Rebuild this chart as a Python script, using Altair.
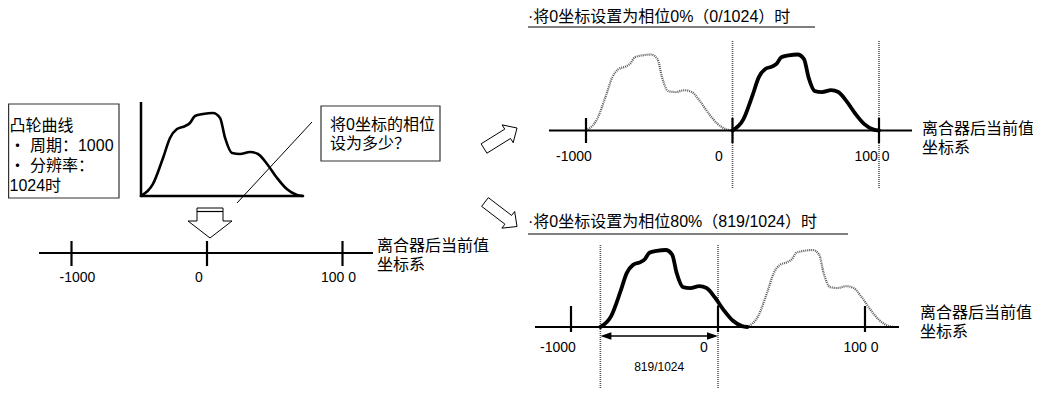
import altair as alt
import pandas as pd
import numpy as np

# ---------------- data ----------------
CAM_PHASE = [0, 0.074, 0.136, 0.179, 0.222, 0.272, 0.302, 0.333, 0.383, 0.444, 0.488,
             0.519, 0.562, 0.611, 0.673, 0.722, 0.778, 0.84, 0.9, 0.963, 1.0]
CAM_LIFT = [0, 14.5, 45.8, 69.9, 80.7, 84.3, 88, 96.4, 98.8, 100, 94,
            69.9, 51.8, 50.6, 53, 50.6, 38.6, 21.7, 8.4, 1.2, 0]
PERIOD = 1000
RESOLUTION = 1024
ZERO_PHASE_COUNTS = [0, 819]
TICK_VALUES = [-1000, 0, 1000]
TICK_LABELS = ["-1000", "0", "100 0"]
CAM_INFO_LINES = ["凸轮曲线", "・ 周期：1000", "・ 分辨率：", "1024时"]
QUESTION_LINES = ["将0坐标的相位", "设为多少？"]
AXIS_NAME_LINES = ["离合器后当前值", "坐标系"]
PANEL_TITLES = ["·将0坐标设置为相位0%（0/1024）时", "·将0坐标设置为相位80%（819/1024）时"]
SPAN_LABEL = "819/1024"

FONT = "Liberation Sans, Noto Sans CJK SC, sans-serif"

# ---------------- layout (screen pixels) ----------------
LEFT = dict(x0=207, k=0.1355, base=253, ax=(39, 373), tick=(12, 13),
            lab_dx=[6, -8, -4], lab_y=278, name=(377, 246))
TOP = dict(x0=732.5, k=0.1465, base=130.5, h=0.76, ax=(549, 912), tick=(12.5, 12.5),
           guide=(41, 189), lab_dx=[-12, -13.5, -7], lab_y=157, name=(922, 129),
           title=(528, 16.5), uline=(528, 815, 27), ghost=-1)
BOT = dict(x0=718, k=0.147, base=327, h=0.77, ax=(535, 899), tick=(21, 5),
           guide=(245, 394), lab_dx=[-13, -14, -4], lab_y=348, name=(920, 313),
           title=(528, 222), uline=(528, 848, 234), ghost=1)
INSET = dict(x0=141, w=162, base=196, h=0.83, top=102)


def sx(p, v):
    return p["x0"] + v * p["k"]


seg = []      # solid straight segments
guides = []   # dotted verticals
curves = []   # cam curves
polys = []    # outline polygons
texts_l = []  # left aligned text
texts_c = []  # centred text


def add_seg(x1, y1, x2, y2, w):
    seg.append(dict(x=x1, y=y1, x2=x2, y2=y2, w=w))


# ---- left panel: cam inset ----
add_seg(INSET["x0"], INSET["top"], INSET["x0"], INSET["base"] + 1, 2.5)
add_seg(INSET["x0"], INSET["base"], INSET["x0"] + INSET["w"], INSET["base"], 2.5)
for i, (ph, lf) in enumerate(zip(CAM_PHASE, CAM_LIFT)):
    curves.append(dict(id="inset", o=i, x=INSET["x0"] + ph * INSET["w"],
                       y=INSET["base"] - lf * INSET["h"], w=2.6, kind="bold"))
add_seg(312, 122, 237, 203, 1)

# ---- left axis ----
add_seg(LEFT["ax"][0], LEFT["base"], LEFT["ax"][1], LEFT["base"], 2.2)
for j, v in enumerate(TICK_VALUES):
    add_seg(sx(LEFT, v), LEFT["base"] - LEFT["tick"][0], sx(LEFT, v), LEFT["base"] + LEFT["tick"][1], 2.2)
    texts_c.append(dict(x=sx(LEFT, v) + LEFT["lab_dx"][j], y=LEFT["lab_y"], t=TICK_LABELS[j], fs=14))
for j, line in enumerate(AXIS_NAME_LINES):
    texts_l.append(dict(x=LEFT["name"][0], y=LEFT["name"][1] + 19 * j, t=line, fs=16))

# ---- right panels ----
for pi, (p, zc) in enumerate(zip([TOP, BOT], ZERO_PHASE_COUNTS)):
    shift = -round(zc / RESOLUTION * PERIOD)
    add_seg(p["ax"][0], p["base"], p["ax"][1], p["base"], 2.2)
    for j, v in enumerate(TICK_VALUES):
        add_seg(sx(p, v), p["base"] - p["tick"][0], sx(p, v), p["base"] + p["tick"][1], 2.2)
        texts_c.append(dict(x=sx(p, v) + p["lab_dx"][j], y=p["lab_y"], t=TICK_LABELS[j], fs=14))
    for j, line in enumerate(AXIS_NAME_LINES):
        texts_l.append(dict(x=p["name"][0], y=p["name"][1] + 18.5 * j, t=line, fs=16))
    texts_l.append(dict(x=p["title"][0], y=p["title"][1], t=PANEL_TITLES[pi], fs=16))
    add_seg(p["uline"][0], p["uline"][2], p["uline"][1], p["uline"][2], 1)
    for gv in ([shift, shift + PERIOD] if shift == 0 else [shift, 0]):
        guides.append(dict(x=sx(p, gv), y=p["guide"][0], x2=sx(p, gv), y2=p["guide"][1]))
    for cyc, kind in [(0, "bold"), (p["ghost"], "dots")]:
        for i, (ph, lf) in enumerate(zip(CAM_PHASE, CAM_LIFT)):
            v = ph * PERIOD + shift + cyc * PERIOD
            curves.append(dict(id=f"p{pi}c{cyc}", o=i, x=sx(p, v),
                               y=p["base"] - lf * p["h"], w=3.8, kind=kind))

# ---- span arrow in bottom panel ----
span_a = sx(BOT, -round(ZERO_PHASE_COUNTS[1] / RESOLUTION * PERIOD))
span_b = sx(BOT, 0)
span_y = 336
add_seg(span_a + 6, span_y, span_b - 6, span_y, 1.6)
heads = pd.DataFrame([dict(x=span_a + 5.5, y=span_y, s="L"), dict(x=span_b - 5.5, y=span_y, s="R")])
texts_c.append(dict(x=(span_a + span_b) / 2, y=367, t=SPAN_LABEL, fs=12))

# ---- text boxes ----
boxes = pd.DataFrame([dict(x=8.6, x2=119, y=104, y2=198), dict(x=321, x2=440, y=106, y2=161)])
for j, line in enumerate(CAM_INFO_LINES):
    texts_l.append(dict(x=9.5, y=126 + 20 * j, t=line, fs=16))
for j, line in enumerate(QUESTION_LINES):
    texts_l.append(dict(x=330, y=125 + 18.5 * j, t=line, fs=16))


# ---- hollow arrows ----
def arrow(name, tail, tip, shw, hhw, hlen):
    t = np.array(tail, float)
    p = np.array(tip, float)
    d = (p - t) / np.linalg.norm(p - t)
    n = np.array([-d[1], d[0]])
    h = p - hlen * d
    pts = [t + shw * n, h + shw * n, h + hhw * n, p, h - hhw * n, h - shw * n, t - shw * n, t + shw * n]
    for i, q in enumerate(pts):
        polys.append(dict(id=name, o=i, x=q[0], y=q[1]))


arrow("down", (210, 208), (210, 238), 13, 22, 17)
add_seg(197, 211.5, 223, 211.5, 1.2)
arrow("up_right", (484, 148.5), (517, 128), 5.5, 10.5, 11)
arrow("down_right", (485, 202), (517, 226.5), 5.5, 10.5, 11)

seg_df = pd.DataFrame(seg)
guide_df = pd.DataFrame(guides)
curve_df = pd.DataFrame(curves)
poly_df = pd.DataFrame(polys)
tl_df = pd.DataFrame(texts_l)
tc_df = pd.DataFrame(texts_c)

XS = alt.Scale(domain=[8, 1033], nice=False, zero=False)
YS = alt.Scale(domain=[8, 389], nice=False, zero=False, reverse=True)


def X(f="x"):
    return alt.X(f"{f}:Q", scale=XS, axis=None)


def Y(f="y"):
    return alt.Y(f"{f}:Q", scale=YS, axis=None)


rules = alt.Chart(seg_df).mark_rule(color="black").encode(
    x=X(), y=Y(), x2="x2:Q", y2="y2:Q",
    strokeWidth=alt.StrokeWidth("w:Q", scale=None))

guide_rules = alt.Chart(guide_df).mark_rule(color="#555", strokeWidth=1.6, strokeDash=[1, 1]).encode(
    x=X(), y=Y(), x2="x2:Q", y2="y2:Q")

box_marks = alt.Chart(boxes).mark_rect(fill="white", stroke="#333", strokeWidth=1.2).encode(
    x=X(), x2="x2:Q", y=Y(), y2="y2:Q")

bold = alt.Chart(curve_df[curve_df.kind == "bold"]).mark_line(
    interpolate="monotone", color="black", strokeCap="round", strokeJoin="round").encode(
    x=X(), y=Y(), detail="id:N", order="o:Q",
    strokeWidth=alt.StrokeWidth("w:Q", scale=None))

dots = alt.Chart(curve_df[curve_df.kind == "dots"]).mark_line(
    interpolate="monotone", color="#555", strokeWidth=2.2, strokeDash=[1, 1]).encode(
    x=X(), y=Y(), detail="id:N", order="o:Q")

outlines = alt.Chart(poly_df).mark_line(color="black", strokeWidth=1, strokeJoin="miter").encode(
    x=X(), y=Y(), detail="id:N", order="o:Q")

head_l = alt.Chart(heads[heads.s == "L"]).mark_point(
    shape="M-1,0L1,-0.7L1,0.7Z", filled=True, size=121, color="black", opacity=1).encode(x=X(), y=Y())
head_r = alt.Chart(heads[heads.s == "R"]).mark_point(
    shape="M1,0L-1,-0.7L-1,0.7Z", filled=True, size=121, color="black", opacity=1).encode(x=X(), y=Y())

txt_l = alt.Chart(tl_df).mark_text(align="left", baseline="middle", font=FONT, color="black").encode(
    x=X(), y=Y(), text="t:N", size=alt.Size("fs:Q", scale=None))
txt_c = alt.Chart(tc_df).mark_text(align="center", baseline="middle", font=FONT, color="black").encode(
    x=X(), y=Y(), text="t:N", size=alt.Size("fs:Q", scale=None))

chart = alt.layer(box_marks, guide_rules, dots, rules, bold, outlines, head_l, head_r,
                  txt_l, txt_c).properties(
    width=1025, height=381, padding=0, autosize=alt.AutoSizeParams(type="none"),
    background="white"
).configure_view(stroke="transparent")

chart.save("out.html", embed_options={"renderer": "svg", "actions": False})
